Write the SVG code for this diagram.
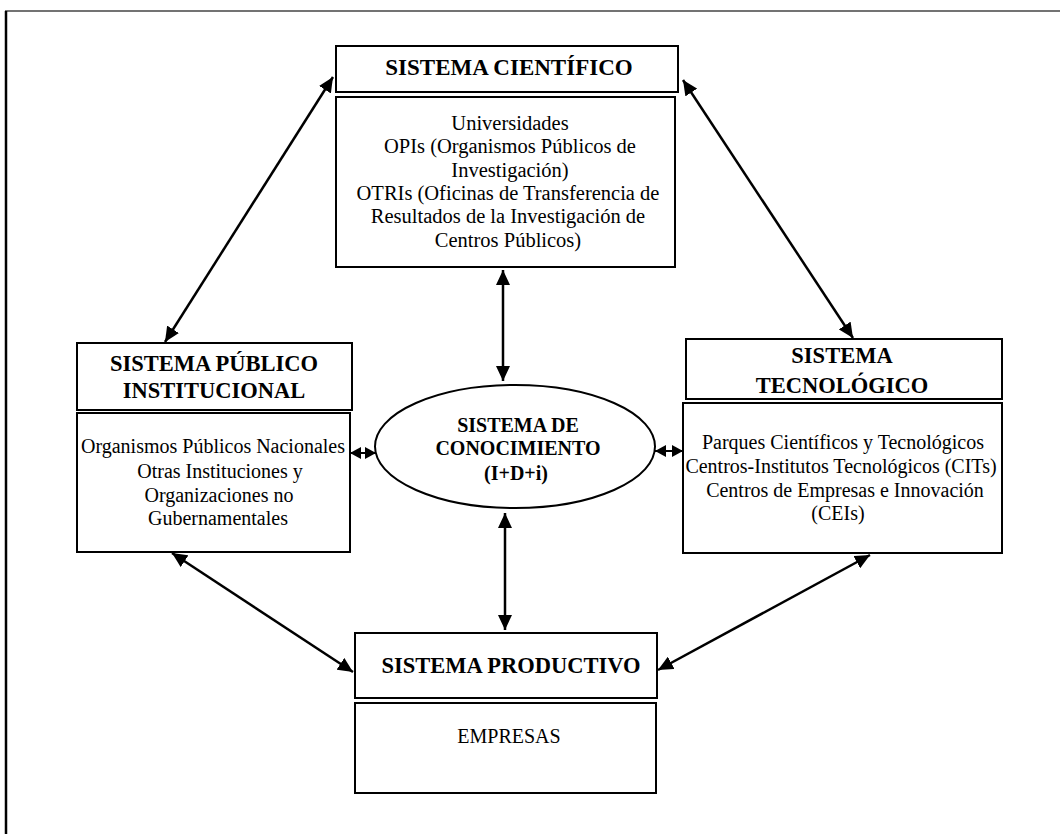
<svg xmlns="http://www.w3.org/2000/svg" width="1060" height="834" viewBox="0 0 1060 834">
  <style>
    .box { fill: #fff; stroke: #000; stroke-width: 2; }
    .hdr { font-family: "Liberation Serif", "Times New Roman", serif; font-weight: bold; font-size: 22.5px; text-anchor: middle; fill: #000; }
    .txt { font-family: "Liberation Serif", "Times New Roman", serif; font-size: 20px; text-anchor: middle; fill: #000; }
    .ell { font-family: "Liberation Serif", "Times New Roman", serif; font-weight: bold; font-size: 20px; text-anchor: middle; fill: #000; }
    .link { stroke: #000; stroke-width: 2.5; fill: none; marker-start: url(#head); marker-end: url(#head); }
    .tiny { stroke: #000; stroke-width: 2; fill: none; marker-start: url(#small); marker-end: url(#small); }
  </style>
  <defs>
    <marker id="head" markerUnits="userSpaceOnUse" markerWidth="16" markerHeight="14" refX="15" refY="7" orient="auto-start-reverse">
      <path d="M0,0 L15,7 L0,14 Z" fill="#000"/>
    </marker>
    <marker id="small" markerUnits="userSpaceOnUse" markerWidth="12" markerHeight="12" refX="11" refY="6" orient="auto-start-reverse">
      <path d="M0,0 L11,6 L0,12 Z" fill="#000"/>
    </marker>
  </defs>

  <!-- page frame -->
  <g id="frame">
    <line x1="5" y1="11" x2="1060" y2="11" stroke="#444" stroke-width="1.5"/>
    <line x1="6" y1="11" x2="6" y2="834" stroke="#000" stroke-width="2.5"/>
  </g>

  <!-- connectors -->
  <g id="connectors">
    <line class="link" x1="333" y1="77" x2="165" y2="342"/>
    <line class="link" x1="683" y1="80" x2="853" y2="338"/>
    <line class="link" x1="503" y1="270" x2="503" y2="381"/>
    <line class="link" x1="505" y1="513" x2="505" y2="630"/>
    <line class="link" x1="172" y1="553" x2="353" y2="672"/>
    <line class="link" x1="870" y1="555" x2="658" y2="670"/>
    <line class="tiny" x1="350" y1="453" x2="376" y2="453"/>
    <line class="tiny" x1="655" y1="451" x2="683" y2="451"/>
  </g>

  <!-- scientific system -->
  <g id="sistema-cientifico">
    <rect class="box" x="336" y="46" width="342" height="46"/>
    <text class="hdr" x="509" y="75" style="font-size:23px">SISTEMA CIENTÍFICO</text>
    <rect class="box" x="336" y="97" width="339" height="170"/>
    <g style="font-size:20.5px">
      <text class="txt" x="510" y="130" style="font-size:20.5px">Universidades</text>
      <text class="txt" x="510" y="153" style="font-size:20.5px">OPIs (Organismos Públicos de</text>
      <text class="txt" x="510" y="177" style="font-size:20.5px">Investigación)</text>
      <text class="txt" x="508" y="200" style="font-size:20.5px">OTRIs (Oficinas de Transferencia de</text>
      <text class="txt" x="508" y="223" style="font-size:20.5px">Resultados de la Investigación de</text>
      <text class="txt" x="508" y="247" style="font-size:20.5px">Centros Públicos)</text>
    </g>
  </g>

  <!-- public institutional system -->
  <g id="sistema-publico">
    <rect class="box" x="77" y="343" width="275" height="67"/>
    <text class="hdr" x="214" y="371">SISTEMA PÚBLICO</text>
    <text class="hdr" x="214" y="398">INSTITUCIONAL</text>
    <rect class="box" x="77" y="413" width="273" height="139"/>
    <text class="txt" x="213" y="453">Organismos Públicos Nacionales</text>
    <text class="txt" x="220" y="478">Otras Instituciones y</text>
    <text class="txt" x="219" y="502">Organizaciones no</text>
    <text class="txt" x="218" y="525">Gubernamentales</text>
  </g>

  <!-- knowledge system -->
  <g id="sistema-conocimiento">
    <ellipse cx="515" cy="446.5" rx="140" ry="61.5" fill="#fff" stroke="#000" stroke-width="2"/>
    <text class="ell" x="518" y="432">SISTEMA DE</text>
    <text class="ell" x="518" y="455">CONOCIMIENTO</text>
    <text class="ell" x="516" y="480">(I+D+i)</text>
  </g>

  <!-- technological system -->
  <g id="sistema-tecnologico">
    <rect class="box" x="686" y="339" width="316" height="60"/>
    <text class="hdr" x="842" y="363">SISTEMA</text>
    <text class="hdr" x="842" y="393">TECNOLÓGICO</text>
    <rect class="box" x="683" y="403" width="319" height="150"/>
    <text class="txt" x="843" y="449">Parques Científicos y Tecnológicos</text>
    <text class="txt" x="841" y="473">Centros-Institutos Tecnológicos (CITs)</text>
    <text class="txt" x="845" y="497">Centros de Empresas e Innovación</text>
    <text class="txt" x="838" y="520">(CEIs)</text>
  </g>

  <!-- productive system -->
  <g id="sistema-productivo">
    <rect class="box" x="355" y="633" width="302" height="65"/>
    <text class="hdr" x="511" y="673">SISTEMA PRODUCTIVO</text>
    <rect class="box" x="355" y="703" width="301" height="90"/>
    <text class="txt" x="509" y="743">EMPRESAS</text>
  </g>
</svg>
